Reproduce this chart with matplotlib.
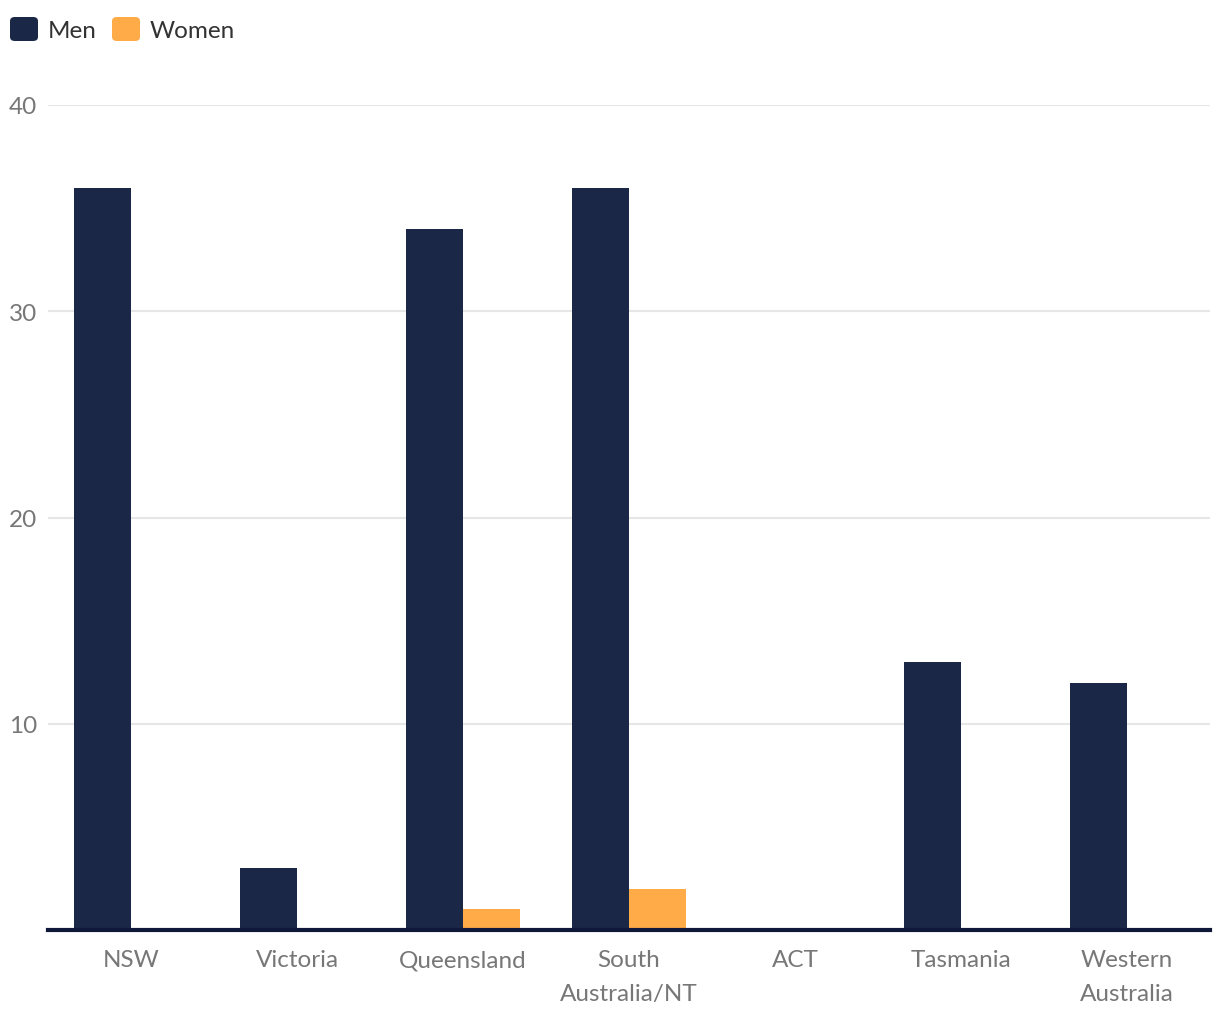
import numpy as np
import matplotlib.pyplot as plt
from matplotlib.patches import FancyBboxPatch

# data
regions = ["NSW", "Victoria", "Queensland", "South\nAustralia/NT", "ACT", "Tasmania", "Western\nAustralia"]
men = [36, 3, 34, 36, 0, 13, 12]
women = [0, 0, 1, 2, 0, 0, 0]
y_ticks = [10, 20, 30, 40]

MEN_COLOR = "#1b2747"
WOMEN_COLOR = "#ffab48"
TEXT_GRAY = "#777777"

plt.rcParams["font.family"] = ["Lato", "DejaVu Sans"]

fig = plt.figure(figsize=(12.2, 10.2), dpi=100)
ax = fig.add_axes([48 / 1220, 89 / 1020, 1162 / 1220, 825 / 1020])

x = np.arange(len(regions))
w = 0.345
ax.bar(x - w / 2, men, width=w, color=MEN_COLOR, zorder=3)
ax.bar(x + w / 2, women, width=w, color=WOMEN_COLOR, zorder=3)

ax.set_xlim(-0.5, len(regions) - 0.5)
ax.set_ylim(0, 40)
ax.set_yticks(y_ticks)
ax.yaxis.grid(True, color="#e6e6e6", linewidth=1.5, zorder=0)
ax.set_axisbelow(True)
for s in ["top", "right", "left"]:
    ax.spines[s].set_visible(False)
ax.spines["bottom"].set_color("#0f1838")
ax.spines["bottom"].set_linewidth(3)
ax.spines["bottom"].set_zorder(4)

ax.set_xticks(x)
ax.set_xticklabels(regions, fontsize=17.5, color=TEXT_GRAY, linespacing=1.75)
ax.tick_params(axis="x", length=0, pad=14)
ax.tick_params(axis="y", length=0, pad=8, labelsize=17.5, labelcolor=TEXT_GRAY)

# legend at top-left with rounded swatches
for label, color, x0 in [("Men", MEN_COLOR, 10), ("Women", WOMEN_COLOR, 112)]:
    patch = FancyBboxPatch((x0 / 1220, 1 - 42 / 1020), 28 / 1220, 24 / 1020,
                           boxstyle="round,pad=0,rounding_size=0.004",
                           transform=fig.transFigure, facecolor=color, edgecolor="none")
    fig.patches.append(patch)
    fig.text((x0 + 38) / 1220, 1 - 31 / 1020, label, fontsize=17.5, color="#333333",
             va="center", ha="left")

fig.savefig("out.png", dpi=100, facecolor="white")
